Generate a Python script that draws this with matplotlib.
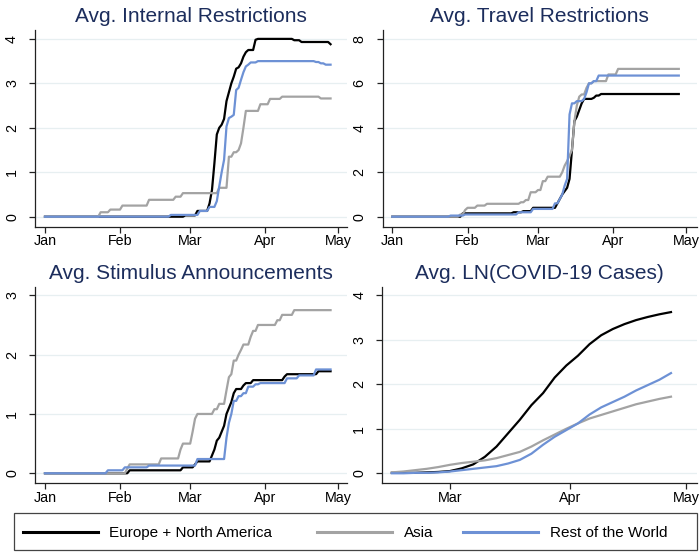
import numpy as np
import matplotlib
matplotlib.use("Agg")
import matplotlib.pyplot as plt
from matplotlib.patches import Rectangle
from matplotlib.lines import Line2D

plt.rcParams["font.family"] = ["Liberation Sans", "DejaVu Sans"]

START = np.datetime64("2020-01-01")
series_names = ["Europe + North America", "Asia", "Rest of the World"]
series_colors = ["#000000", "#a3a3a3", "#6d91d5"]
month_days = [0, 31, 60, 91, 121]
month_labels = ["Jan", "Feb", "Mar", "Apr", "May"]

# Policy indices: (day since Jan 1, new level) change points, held until next change
internal_ena = [(0, 0), (58, 0.03), (63, 0.13), (68, 0.3), (69, 0.6), (70, 1.2), (71, 1.85),
                (72, 2.0), (73, 2.07), (74, 2.2), (75, 2.6), (76, 2.8), (77, 3.0), (78, 3.15),
                (79, 3.33), (80, 3.36), (81, 3.45), (82, 3.6), (83, 3.7), (84, 3.75),
                (87, 3.98), (88, 4.0), (103, 3.97), (106, 3.93), (118, 3.88)]
internal_asia = [(0, 0), (23, 0.1), (27, 0.16), (32, 0.25), (43, 0.38), (54, 0.45), (57, 0.53),
                 (72, 0.65), (76, 1.35), (78, 1.45), (80, 1.5), (81, 1.65), (82, 2.0),
                 (83, 2.38), (89, 2.53), (93, 2.65), (98, 2.7), (114, 2.66)]
internal_row = [(0, 0), (52, 0.04), (64, 0.13), (68, 0.22), (71, 0.35), (72, 0.68), (73, 1.0),
                (74, 1.28), (75, 2.03), (76, 2.22), (77, 2.25), (78, 2.29), (79, 2.85),
                (80, 2.9), (81, 3.08), (82, 3.25), (83, 3.38), (84, 3.42), (85, 3.47),
                (88, 3.5), (112, 3.48), (114, 3.45), (116, 3.42)]

travel_ena = [(0, 0), (29, 0.15), (50, 0.2), (54, 0.25), (58, 0.4), (68, 0.6), (69, 0.8),
              (70, 1.0), (71, 1.15), (72, 1.3), (73, 1.7), (74, 3.0), (75, 4.3), (76, 4.5),
              (77, 4.8), (78, 5.1), (79, 5.3), (83, 5.35), (84, 5.45), (86, 5.52)]
travel_asia = [(0, 0), (28, 0.1), (30, 0.3), (31, 0.4), (35, 0.5), (39, 0.58), (53, 0.65),
               (55, 0.75), (57, 1.1), (60, 1.2), (62, 1.6), (64, 1.8), (70, 2.0), (71, 2.3),
               (72, 2.5), (73, 2.75), (74, 3.0), (75, 4.3), (76, 5.0), (77, 5.4), (78, 5.5),
               (80, 5.8), (81, 6.0), (83, 6.1), (89, 6.4), (93, 6.65)]
travel_row = [(0, 0), (24, 0.05), (30, 0.1), (52, 0.2), (58, 0.35), (67, 0.6), (69, 0.8),
              (70, 1.0), (71, 1.4), (72, 1.7), (73, 4.6), (74, 5.1), (76, 5.2), (79, 5.3),
              (80, 5.6), (81, 6.0), (83, 6.1), (85, 6.35)]

stimulus_ena = [(0, 0), (35, 0.05), (57, 0.1), (62, 0.15), (63, 0.2), (69, 0.3), (70, 0.4),
                (71, 0.55), (72, 0.6), (73, 0.7), (74, 0.8), (75, 1.0), (76, 1.1), (77, 1.2),
                (78, 1.35), (79, 1.42), (82, 1.48), (83, 1.52), (86, 1.57), (99, 1.63),
                (100, 1.67), (113, 1.72)]
stimulus_asia = [(0, 0), (34, 0.08), (35, 0.15), (48, 0.25), (56, 0.4), (57, 0.5), (61, 0.7),
                 (62, 0.92), (63, 1.0), (70, 1.08), (72, 1.17), (75, 1.4), (76, 1.62),
                 (77, 1.67), (78, 1.9), (80, 2.0), (81, 2.08), (82, 2.17), (85, 2.3),
                 (86, 2.4), (88, 2.5), (96, 2.58), (98, 2.67), (103, 2.75)]
stimulus_row = [(0, 0), (26, 0.05), (33, 0.1), (43, 0.13), (63, 0.24), (75, 0.6), (76, 0.85),
                (77, 1.0), (78, 1.22), (80, 1.3), (82, 1.35), (84, 1.46), (87, 1.5), (89, 1.52),
                (100, 1.6), (105, 1.65), (112, 1.75)]
LAST_DAY = 118

# Average log COVID-19 cases, sampled every third day from Feb 15
case_days = [45, 48, 51, 54, 57, 60, 63, 66, 69, 72, 75, 78, 81, 84, 87, 90, 93, 96, 99,
             102, 105, 108, 111, 114, 117]
cases_ena = [0.01, 0.01, 0.01, 0.02, 0.03, 0.05, 0.11, 0.2, 0.37, 0.6, 0.9, 1.2, 1.53, 1.8,
             2.15, 2.42, 2.64, 2.9, 3.1, 3.24, 3.35, 3.44, 3.51, 3.57, 3.62]
cases_asia = [0.02, 0.04, 0.07, 0.1, 0.14, 0.19, 0.23, 0.26, 0.29, 0.34, 0.41, 0.48, 0.6,
              0.74, 0.87, 1.0, 1.12, 1.23, 1.31, 1.39, 1.47, 1.55, 1.61, 1.67, 1.72]
cases_row = [0.0, 0.0, 0.01, 0.01, 0.02, 0.04, 0.07, 0.1, 0.13, 0.16, 0.22, 0.3, 0.44, 0.64,
             0.82, 0.97, 1.12, 1.32, 1.48, 1.6, 1.72, 1.86, 1.98, 2.1, 2.25]


def hold(points, last=LAST_DAY):
    days = np.arange(0, last + 1)
    vals = np.zeros(len(days))
    for d, v in points:
        vals[days >= d] = v
    return days, vals


def to_dates(days):
    return START + np.asarray(days).astype("timedelta64[D]")


def day_offset(d):
    return START + np.timedelta64(int(round(d * 24)), "h")


W, H = 699, 552
fig = plt.figure(figsize=(W / 100, H / 100), dpi=100)


def make_axes(left, right, top, bottom):
    return fig.add_axes([left / W, 1 - bottom / H, (right - left) / W, (bottom - top) / H])


panels = [
    dict(rect=(35, 347, 30, 226.7), title="Avg. Internal Restrictions",
         data=[hold(internal_ena), hold(internal_asia), hold(internal_row)],
         xlim=(-4.13, 124.8), ylim=(-0.225, 4.2), yticks=[0, 1, 2, 3, 4], months=5),
    dict(rect=(382.7, 697, 30, 226.7), title="Avg. Travel Restrictions",
         data=[hold(travel_ena), hold(travel_asia), hold(travel_row)],
         xlim=(-3.96, 125.5), ylim=(-0.45, 8.4), yticks=[0, 2, 4, 6, 8], months=5),
    dict(rect=(35, 347, 286.7, 483.3), title="Avg. Stimulus Announcements",
         data=[hold(stimulus_ena), hold(stimulus_asia), hold(stimulus_row)],
         xlim=(-4.13, 124.8), ylim=(-0.169, 3.145), yticks=[0, 1, 2, 3], months=5),
    dict(rect=(382.3, 697, 286.7, 483.3), title="Avg. LN(COVID-19 Cases)",
         data=[(case_days, cases_ena), (case_days, cases_asia), (case_days, cases_row)],
         xlim=(42.55, 123.7), ylim=(-0.225, 4.19), yticks=[0, 1, 2, 3, 4], months=3),
]

for p in panels:
    ax = make_axes(*p["rect"])
    for (days, vals), color, name in zip(p["data"], series_colors, series_names):
        ax.plot(to_dates(days), vals, color=color, lw=1.6, label=name,
                solid_joinstyle="round", zorder=3)
    ax.set_xlim(day_offset(p["xlim"][0]), day_offset(p["xlim"][1]))
    ax.set_ylim(*p["ylim"])
    ticks = month_days[-p["months"]:]
    ax.set_xticks(to_dates(ticks))
    ax.set_xticklabels(month_labels[-p["months"]:])
    ax.set_yticks(p["yticks"])
    ax.set_yticklabels([str(t) for t in p["yticks"]], rotation=90, va="center")
    ax.grid(axis="y", color="#e7eff1", lw=0.9, zorder=0)
    ax.set_axisbelow(True)
    for s in ("top", "right"):
        ax.spines[s].set_visible(False)
    for s in ("left", "bottom"):
        ax.spines[s].set_color("#222222")
        ax.spines[s].set_linewidth(0.9)
    ax.tick_params(axis="x", length=4, width=0.9, color="#222222", labelsize=10.3, pad=1.5)
    ax.tick_params(axis="y", length=4.5, width=0.9, color="#222222", labelsize=10.3, pad=7)
    ax.set_title(p["title"], fontsize=15, color="#1c2d5c", pad=5.5)

# Legend: framed strip across the bottom with a key line and label per series
fig.patches.append(Rectangle((14 / W, 1 - 550 / H), 683 / W, 37 / H,
                             transform=fig.transFigure, fill=False,
                             edgecolor="#444444", lw=0.9))
key_start = [22.7, 317, 463]
key_len, key_gap = 75, 11.5
key_y, label_baseline = 531.5, 537
for name, color, x in zip(series_names, series_colors, key_start):
    fig.add_artist(Line2D([x / W, (x + key_len) / W], [1 - key_y / H] * 2,
                          transform=fig.transFigure, color=color, lw=2.2))
    fig.text((x + key_len + key_gap) / W, 1 - label_baseline / H, name,
             fontsize=11, va="baseline", ha="left")

fig.savefig("out.png", dpi=100, facecolor="white")
